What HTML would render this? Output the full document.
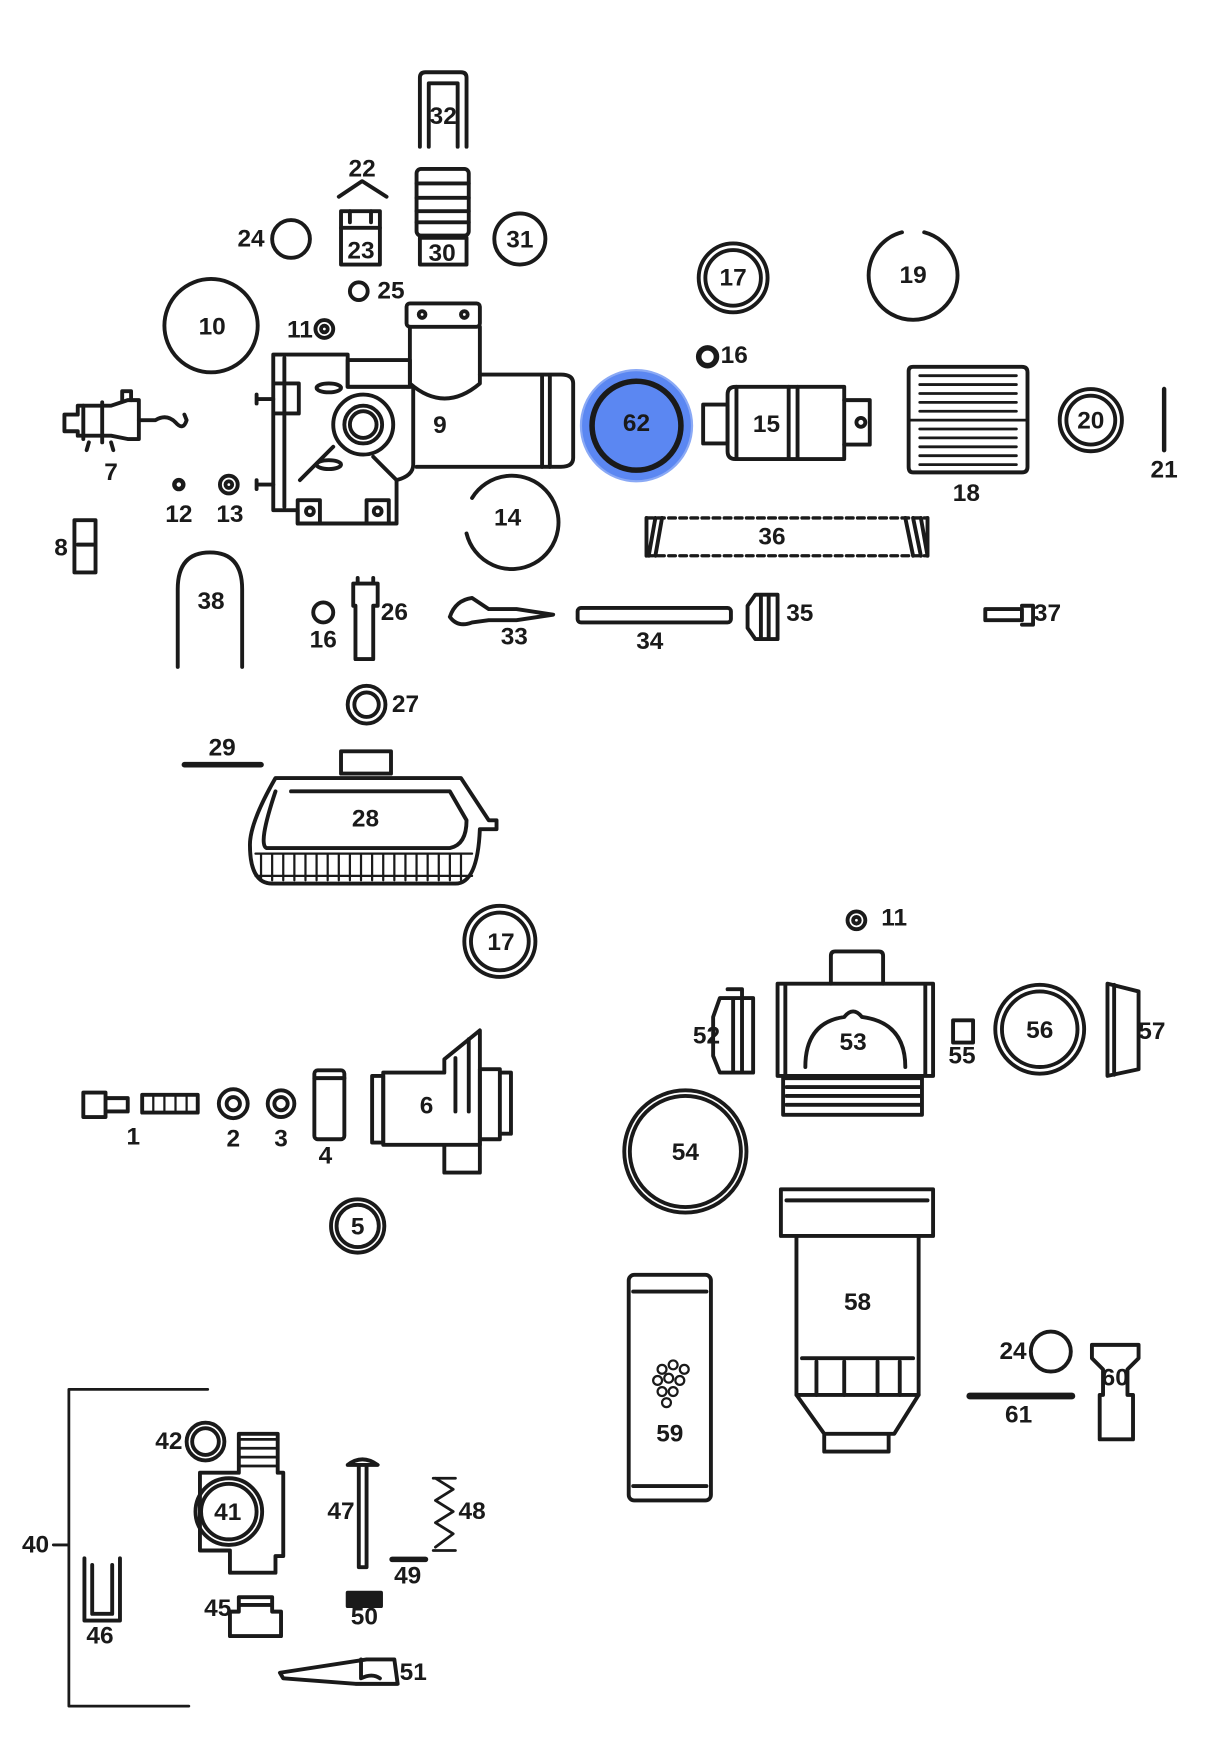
<!DOCTYPE html>
<html><head><meta charset="utf-8"><style>
html,body{margin:0;padding:0;background:#fff;}
svg{display:block;}
text{font-family:"Liberation Sans",sans-serif;font-weight:bold;font-size:22px;fill:#1a1a1a;text-anchor:middle;dominant-baseline:central;}
</style></head><body>
<svg width="1223" height="1745" viewBox="0 0 1101 1570" preserveAspectRatio="none" xmlns="http://www.w3.org/2000/svg">
<g fill="none" stroke="#1a1a1a" stroke-width="3.5" stroke-linejoin="round" stroke-linecap="round">
<!-- 32 -->
<path d="M378 132 V70 Q378 65 383 65 H415 Q420 65 420 70 V132"/>
<path d="M386 132 V75 H412 V132"/>
<!-- 22 -->
<path d="M305 177 L326 163 L348 177"/>
<!-- 23 -->
<rect x="307" y="190" width="35" height="48"/><path d="M307 205 H342 M315 190 V200 M334 190 V200"/>
<!-- 30 -->
<rect x="375" y="152" width="47" height="60" rx="4"/><path d="M375 165 H422 M375 178 H422 M375 190 H422 M375 200 H422"/>
<rect x="378" y="214" width="42" height="24"/>
<!-- 24 -->
<circle cx="262" cy="215" r="17"/>
<!-- 31 -->
<circle cx="468" cy="215" r="23"/>
<!-- 25 -->
<circle cx="323" cy="262" r="8"/>
<!-- 10 -->
<circle cx="190" cy="293" r="42"/>
<!-- 11 -->
<circle cx="292" cy="296" r="8"/><circle cx="292" cy="296" r="3"/>
<!-- 17 -->
<circle cx="660" cy="250" r="31"/><circle cx="660" cy="250" r="25"/>
<!-- 19 -->
<path d="M812 209 A40 40 0 1 0 832 209"/>
<!-- 16 -->
<circle cx="637" cy="321" r="8" stroke-width="5"/>
<!-- 9 body -->
<path d="M246 319 H313 V348 H372 V418 Q372 428 357 432 V471 H268 V459 H246 Z"/>
<rect x="313" y="324" width="56" height="24"/>
<rect x="366" y="273" width="66" height="21" rx="3"/>
<circle cx="380" cy="283" r="3"/><circle cx="418" cy="283" r="3"/>
<path d="M369 294 V345 Q400 372 432 345 V294"/>
<path d="M432 337 H505 Q516 337 516 345 V412 Q516 420 505 420 H375"/>
<path d="M488 338 V420 M495 338 V420"/>
<path d="M256 322 V456"/>
<path d="M248 345 H269 V372 H248"/>
<path d="M231 359 H246 M231 436 H246 M231 355 V363 M231 432 V440"/>
<path d="M300 402 L270 432 M336 411 L357 432"/>
<circle cx="327" cy="382" r="27"/><circle cx="327" cy="382" r="17"/><circle cx="327" cy="382" r="12"/>
<ellipse cx="296" cy="349" rx="11" ry="4"/><ellipse cx="296" cy="418" rx="11" ry="4"/>
<rect x="268" y="450" width="20" height="21"/><rect x="330" y="450" width="20" height="21"/>
<circle cx="279" cy="460" r="3.5"/><circle cx="340" cy="460" r="3.5"/>
<!-- 7 -->
<path d="M58 373 H70 V365 H100 L115 360 H125 V395 H115 L100 392 H70 V388 H58 Z"/>
<path d="M75 365 V395 M92 362 V398 M125 378 H140 Q150 372 158 380 Q165 388 168 378 L166 373"/>
<path d="M110 360 V352 H118 V360 M80 398 L78 405 M100 398 L102 405"/>
<!-- 62 highlight -->
<circle cx="573" cy="383" r="50" fill="#5b87f2" stroke="#8aa9f5" stroke-width="2"/>
<circle cx="573" cy="383" r="40" stroke-width="5"/>
<!-- 15 -->
<rect x="633" y="364" width="22" height="35"/>
<path d="M655 355 Q655 348 662 348 H760 V413 H662 Q655 413 655 406 Z"/>
<path d="M663 348 V413 M710 348 V413 M718 348 V413 M760 360 H783 V400 H760"/>
<circle cx="775" cy="380" r="4"/>
<!-- 18 -->
<path d="M818 334 Q818 330 822 330 H920 Q925 330 925 335 V420 Q925 425 920 425 H822 Q818 425 818 420 Z"/>
<path d="M828 338 H915 M828 346 H915 M828 354 H915 M828 362 H915 M828 370 H915 M828 386 H915 M828 394 H915 M828 402 H915 M828 410 H915 M828 418 H915 M818 378 H925" stroke-width="2.5"/>
<!-- 20 -->
<circle cx="982" cy="378" r="28"/><circle cx="982" cy="378" r="22"/>
<!-- 21 -->
<path d="M1048 350 V405" stroke-width="4"/>
<!-- 12, 13 -->
<circle cx="161" cy="436" r="4" stroke-width="4"/>
<circle cx="206" cy="436" r="8"/><circle cx="206" cy="436" r="3"/>
<!-- 14 -->
<path d="M420 480 A42 42 0 1 0 425 448"/>
<!-- 36 -->
<path d="M582 466 H835 M582 500 H835" stroke-dasharray="6 4" stroke-width="3"/>
<path d="M582 466 V500 M590 466 L584 500 M596 466 L590 500 M815 466 L822 500 M822 466 L829 500 M829 466 L835 500 M835 466 V500"/>
<!-- 8 -->
<rect x="67" y="468" width="19" height="47"/><path d="M70 490 H84"/>
<!-- 38 -->
<path d="M160 600 V530 Q160 497 189 497 Q218 497 218 530 V600"/>
<!-- 16b -->
<circle cx="291" cy="551" r="9"/>
<!-- 26 -->
<path d="M318 525 H340 V545 H336 V593 H320 V545 H318 Z M322 520 V525 M336 520 V525"/>
<!-- 33 -->
<path d="M405 555 Q410 540 425 538 L440 548 H465 L498 553 L465 558 H440 L425 560 Q412 565 405 555"/>
<!-- 34 -->
<rect x="520" y="547" width="138" height="13" rx="3"/>
<!-- 35 -->
<path d="M673 545 L680 535 H700 V575 H680 L673 565 Z M685 535 V575 M692 535 V575"/>
<!-- 37 -->
<path d="M887 548 H920 V558 H887 Z M920 545 H930 V562 H920"/>
<!-- 27 -->
<circle cx="330" cy="634" r="17"/><circle cx="330" cy="634" r="11"/>
<!-- 29 -->
<path d="M166 688 H235" stroke-width="5"/>
<!-- 28 -->
<rect x="307" y="676" width="45" height="20"/>
<path d="M248 700 H415 L440 738 H447 V746 H432 Q430 795 410 795 H245 Q225 795 225 760 Q225 740 248 700 Z"/>
<path d="M262 712 H405 L420 738 Q420 760 405 763 H240 Q232 760 248 712"/>
<path d="M230 768 H425 M230 788 H425" stroke-width="2"/>
<path d="M235 768 V790 M245 768 V792 M255 768 V792 M265 768 V792 M275 768 V792 M285 768 V792 M295 768 V792 M305 768 V792 M315 768 V792 M325 768 V792 M335 768 V792 M345 768 V792 M355 768 V792 M365 768 V792 M375 768 V792 M385 768 V792 M395 768 V792 M405 768 V792 M415 768 V792" stroke-width="2"/>
<!-- 17b -->
<circle cx="450" cy="847" r="32"/><circle cx="450" cy="847" r="26"/>
<!-- 11b -->
<circle cx="771" cy="828" r="8"/><circle cx="771" cy="828" r="3"/>
<!-- 53 -->
<path d="M748 885 V860 Q748 856 752 856 H791 Q795 856 795 860 V885"/>
<path d="M700 885 H840 V968 H700 Z M707 885 V968 M833 885 V968"/>
<path d="M725 960 Q725 920 760 915 Q768 905 776 915 Q815 920 815 960"/>
<path d="M705 970 H830 V1003 H705 Z M708 978 H828 M708 986 H828 M708 994 H828"/>
<!-- 52 -->
<path d="M642 915 L648 898 H678 V965 H648 L642 950 Z M655 890 H668 V965 M660 898 V965"/>
<!-- 55 -->
<rect x="858" y="918" width="18" height="20"/>
<!-- 56 -->
<circle cx="936" cy="926" r="40"/><circle cx="936" cy="926" r="34"/>
<!-- 57 -->
<path d="M997 885 L1025 892 V962 L997 968 Z M1003 886 V967"/>
<!-- 1 -->
<path d="M75 983 H95 V1005 H75 Z M95 988 H115 V1000 H95 M128 985 H178 V1001 H128 Z"/>
<path d="M138 985 V1001 M148 985 V1001 M158 985 V1001 M168 985 V1001" stroke-width="2"/>
<!-- 2 3 -->
<circle cx="210" cy="993" r="13"/><circle cx="210" cy="993" r="6"/>
<circle cx="253" cy="993" r="12"/><circle cx="253" cy="993" r="6"/>
<!-- 4 -->
<rect x="283" y="963" width="27" height="62" rx="3"/><path d="M283 970 H310"/>
<!-- 6 -->
<path d="M345 965 H400 V953 L432 927 V1000 H432 V1030 H400 V1055 H432 V1030 H345 Z"/>
<path d="M335 968 H345 V1028 H335 Z M432 962 H450 V1025 H432 M450 965 H460 V1020 H450"/>
<path d="M410 952 V1000 M422 935 V1000 M432 962 V1030"/>
<!-- 5 -->
<circle cx="322" cy="1103" r="24"/><circle cx="322" cy="1103" r="19"/>
<!-- 54 -->
<circle cx="617" cy="1036" r="55"/><circle cx="617" cy="1036" r="50"/>
<!-- 58 -->
<path d="M703 1070 H840 V1112 H703 Z M708 1080 H835"/>
<path d="M717 1112 V1255 H827 V1112"/>
<path d="M722 1222 H822 M735 1225 V1255 M760 1225 V1255 M790 1225 V1255 M810 1225 V1255"/>
<path d="M717 1255 L742 1290 H805 L827 1255 M742 1290 V1306 H800 V1290"/>
<!-- 59 -->
<rect x="566" y="1147" width="74" height="203" rx="5"/><path d="M570 1162 H636 M570 1337 H636"/>
<g stroke-width="2"><circle cx="596" cy="1232" r="4"/><circle cx="606" cy="1228" r="4"/><circle cx="616" cy="1232" r="4"/><circle cx="592" cy="1242" r="4"/><circle cx="602" cy="1240" r="4"/><circle cx="612" cy="1242" r="4"/><circle cx="596" cy="1252" r="4"/><circle cx="606" cy="1252" r="4"/><circle cx="600" cy="1262" r="4"/></g>
<!-- 24c -->
<circle cx="946" cy="1216" r="18"/>
<!-- 61 -->
<path d="M873 1256 H965" stroke-width="6"/>
<!-- 60 -->
<path d="M983 1210 H1025 V1222 L1015 1232 V1255 H1020 V1295 H990 V1255 H993 V1232 L983 1222 Z"/>
<!-- 40 bracket -->
<path d="M187 1250 H62 V1535 H170 M48 1390 H62" stroke-width="2.5"/>
<!-- 42 -->
<circle cx="185" cy="1297" r="17"/><circle cx="185" cy="1297" r="12"/>
<!-- 41 -->
<path d="M215 1290 H250 V1325 H255 V1400 H248 V1415 H207 V1395 H180 V1325 H215 Z"/>
<path d="M215 1295 H250 M215 1303 H250 M215 1311 H250 M215 1319 H250" stroke-width="2.5"/>
<circle cx="206" cy="1360" r="30"/><circle cx="206" cy="1360" r="25"/>
<!-- 47 -->
<path d="M313 1318 Q326 1308 340 1318 Z M323 1320 V1410 H330 V1320"/>
<!-- 48 -->
<path d="M390 1330 H410 M390 1395 H410 M392 1330 L408 1340 L392 1350 L408 1360 L392 1370 L408 1380 L392 1392" stroke-width="2.5"/>
<!-- 49 -->
<path d="M353 1403 H383" stroke-width="5"/>
<!-- 50 -->
<rect x="313" y="1433" width="30" height="12" fill="#1a1a1a"/>
<!-- 45 -->
<path d="M215 1437 H245 V1450 H253 V1472 H207 V1450 H215 Z M215 1444 H245"/>
<!-- 46 -->
<path d="M76 1402 V1458 H108 V1402 M83 1408 V1452 H101 V1408"/>
<!-- 51 -->
<path d="M252 1505 L330 1493 H355 L358 1515 H320 L255 1510 Z M325 1493 V1510 Q335 1505 342 1510"/>
</g>
<g>
<text x="399" y="105">32</text><text x="326" y="152">22</text><text x="325" y="226" font-size="19">23</text><text x="398" y="228" font-size="19">30</text>
<text x="226" y="215">24</text><text x="468" y="216">31</text><text x="352" y="262">25</text><text x="191" y="294">10</text>
<text x="270" y="297">11</text><text x="660" y="250">17</text><text x="822" y="248">19</text><text x="661" y="320">16</text>
<text x="396" y="383">9</text><text x="100" y="425">7</text><text x="573" y="381" font-size="24">62</text><text x="690" y="382">15</text>
<text x="870" y="444">18</text><text x="982" y="379">20</text><text x="1048" y="423">21</text>
<text x="161" y="463">12</text><text x="207" y="463">13</text><text x="457" y="466">14</text><text x="695" y="483">36</text>
<text x="55" y="493">8</text><text x="190" y="541">38</text><text x="291" y="576">16</text><text x="355" y="551">26</text>
<text x="463" y="573">33</text><text x="585" y="577">34</text><text x="720" y="552">35</text><text x="943" y="552">37</text>
<text x="365" y="634">27</text><text x="200" y="673">29</text><text x="329" y="737">28</text><text x="451" y="848">17</text>
<text x="805" y="826">11</text><text x="768" y="938">53</text><text x="636" y="932">52</text><text x="866" y="950">55</text>
<text x="936" y="927">56</text><text x="1037" y="928">57</text><text x="120" y="1023">1</text><text x="210" y="1025">2</text>
<text x="253" y="1025">3</text><text x="293" y="1040">4</text><text x="384" y="995">6</text><text x="322" y="1104">5</text>
<text x="617" y="1037">54</text><text x="772" y="1172">58</text><text x="603" y="1290">59</text><text x="912" y="1216">24</text>
<text x="917" y="1273">61</text><text x="1004" y="1240" font-size="19">60</text><text x="32" y="1390">40</text>
<text x="152" y="1297">42</text><text x="205" y="1361">41</text><text x="307" y="1360">47</text><text x="425" y="1360">48</text>
<text x="367" y="1418">49</text><text x="328" y="1455">50</text><text x="196" y="1447">45</text><text x="90" y="1472">46</text>
<text x="372" y="1505">51</text>
</g>
</svg>
</body></html>
